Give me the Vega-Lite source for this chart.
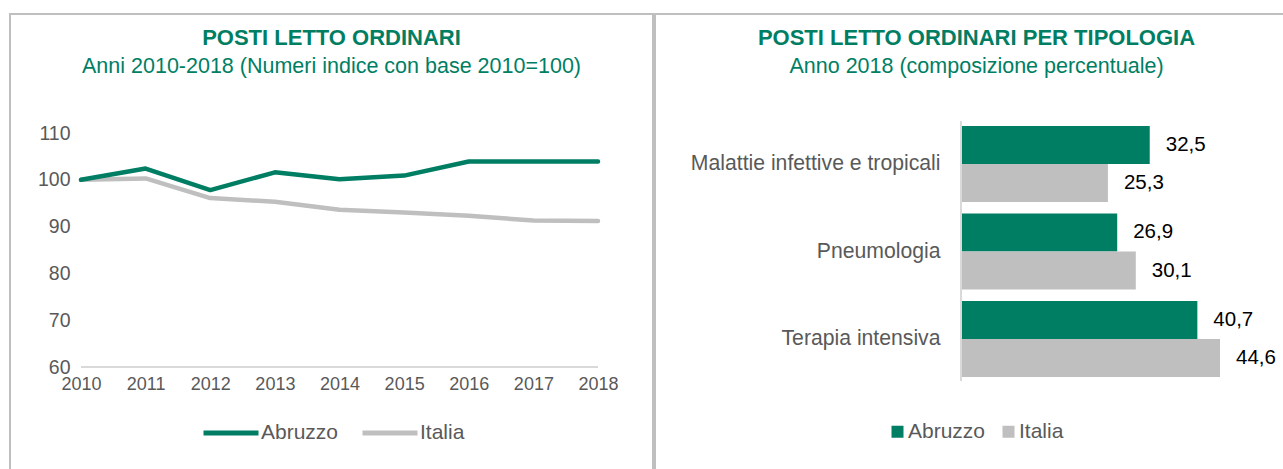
{
  "$schema": "https://vega.github.io/schema/vega-lite/v6.json",
  "padding": {"left": 9, "top": 13, "right": 0, "bottom": 0},
  "background": "white",
  "spacing": 0,
  "config": {
    "view": {"stroke": "#BFBFBF", "strokeWidth": 2},
    "font": "Liberation Sans",
    "locale": {"number": {"decimal": ",", "thousands": ".", "grouping": [3], "currency": ["", " €"]}}
  },
  "resolve": {"scale": {"color": "independent"}, "legend": {"color": "independent"}},
  "hconcat": [
    {
      "width": 643,
      "height": 470,
      "title": {
        "text": "POSTI LETTO ORDINARI",
        "subtitle": "Anni 2010-2018 (Numeri indice con base 2010=100)",
        "anchor": "middle",
        "frame": "group",
        "offset": -64,
        "font": "Liberation Sans",
        "fontSize": 22,
        "fontWeight": "bold",
        "color": "#007E64",
        "subtitleFont": "Liberation Sans",
        "subtitleFontSize": 21.5,
        "subtitleColor": "#007E64",
        "subtitlePadding": 6
      },
      "data": {
        "values": [
          {"year": 2010, "series": "Italia", "value": 100.0},
          {"year": 2011, "series": "Italia", "value": 100.3},
          {"year": 2012, "series": "Italia", "value": 96.1},
          {"year": 2013, "series": "Italia", "value": 95.3},
          {"year": 2014, "series": "Italia", "value": 93.6},
          {"year": 2015, "series": "Italia", "value": 93.0},
          {"year": 2016, "series": "Italia", "value": 92.3},
          {"year": 2017, "series": "Italia", "value": 91.3},
          {"year": 2018, "series": "Italia", "value": 91.2},
          {"year": 2010, "series": "Abruzzo", "value": 100.0},
          {"year": 2011, "series": "Abruzzo", "value": 102.4},
          {"year": 2012, "series": "Abruzzo", "value": 97.8},
          {"year": 2013, "series": "Abruzzo", "value": 101.6},
          {"year": 2014, "series": "Abruzzo", "value": 100.1},
          {"year": 2015, "series": "Abruzzo", "value": 100.9},
          {"year": 2016, "series": "Abruzzo", "value": 103.9},
          {"year": 2017, "series": "Abruzzo", "value": 103.9},
          {"year": 2018, "series": "Abruzzo", "value": 103.9}
        ]
      },
      "layer": [
        {
          "mark": {"type": "rule", "color": "#D9D9D9", "strokeWidth": 1.5},
          "encoding": {
            "x": {"datum": 2010, "type": "quantitative"},
            "x2": {"datum": 2018},
            "y": {"datum": 60, "type": "quantitative"}
          }
        },
        {
          "mark": {"type": "line", "strokeWidth": 4.5, "strokeCap": "round", "strokeJoin": "round"},
          "encoding": {
            "x": {
              "field": "year", "type": "quantitative",
              "scale": {"domain": [2008.901, 2018.851], "nice": false, "zero": false},
              "axis": {
                "values": [2010, 2011, 2012, 2013, 2014, 2015, 2016, 2017, 2018],
                "format": "d", "title": null, "domain": false, "ticks": false, "grid": false,
                "offset": -117, "labelPadding": 8, "labelFlush": false,
                "labelFontSize": 18, "labelColor": "#595959"
              }
            },
            "y": {
              "field": "value", "type": "quantitative",
              "scale": {"domain": [35, 135.43], "nice": false, "zero": false},
              "axis": {
                "values": [60, 70, 80, 90, 100, 110],
                "title": null, "domain": false, "ticks": false, "grid": false,
                "offset": -60, "labelPadding": 0,
                "labelFontSize": 19.5, "labelColor": "#595959"
              }
            },
            "color": {
              "field": "series", "type": "nominal",
              "scale": {"domain": ["Abruzzo", "Italia"], "range": ["#007E64", "#BFBFBF"]},
              "legend": {
                "orient": "none", "legendX": 191, "legendY": 389, "direction": "horizontal",
                "title": null, "padding": 0, "symbolType": "stroke", "symbolSize": 3025,
                "symbolStrokeWidth": 5, "labelFontSize": 21, "labelColor": "#595959",
                "labelOffset": 0, "columnPadding": 13, "labelLimit": 200
              }
            }
          }
        }
      ]
    },
    {
      "width": 643,
      "height": 470,
      "title": {
        "text": "POSTI LETTO ORDINARI PER TIPOLOGIA",
        "subtitle": "Anno 2018 (composizione percentuale)",
        "anchor": "middle",
        "frame": "group",
        "offset": -64,
        "font": "Liberation Sans",
        "fontSize": 22,
        "fontWeight": "bold",
        "color": "#007E64",
        "subtitleFont": "Liberation Sans",
        "subtitleFontSize": 21.5,
        "subtitleColor": "#007E64",
        "subtitlePadding": 6
      },
      "data": {
        "values": [
          {"cat": "Malattie infettive e tropicali", "series": "Abruzzo", "value": 32.5},
          {"cat": "Malattie infettive e tropicali", "series": "Italia", "value": 25.3},
          {"cat": "Pneumologia", "series": "Abruzzo", "value": 26.9},
          {"cat": "Pneumologia", "series": "Italia", "value": 30.1},
          {"cat": "Terapia intensiva", "series": "Abruzzo", "value": 40.7},
          {"cat": "Terapia intensiva", "series": "Italia", "value": 44.6}
        ]
      },
      "layer": [
        {
          "mark": {"type": "bar"},
          "encoding": {
            "x": {
              "field": "value", "type": "quantitative",
              "scale": {"domain": [-52.69, 58.03], "nice": false},
              "axis": null
            },
            "y": {
              "field": "cat", "type": "nominal",
              "sort": ["Malattie infettive e tropicali", "Pneumologia", "Terapia intensiva"],
              "scale": {"range": [112, 363], "paddingInner": 0.131, "paddingOuter": 0},
              "axis": {
                "title": null, "domain": false, "ticks": false, "grid": false,
                "offset": -306, "labelPadding": 21, "labelLimit": 400,
                "labelFontSize": 21.2, "labelColor": "#595959"
              }
            },
            "yOffset": {
              "field": "series", "type": "nominal",
              "sort": ["Abruzzo", "Italia"],
              "scale": {"paddingInner": 0, "paddingOuter": 0}
            },
            "color": {
              "field": "series", "type": "nominal",
              "scale": {"domain": ["Abruzzo", "Italia"], "range": ["#007E64", "#BFBFBF"]},
              "legend": {
                "orient": "none", "legendX": 232, "legendY": 407, "direction": "horizontal",
                "title": null, "padding": 0, "symbolType": "square", "symbolSize": 144,
                "symbolStrokeWidth": 0, "labelFontSize": 21, "labelColor": "#595959",
                "labelOffset": 0, "columnPadding": 12, "labelLimit": 200
              }
            }
          }
        },
        {
          "mark": {"type": "rule", "color": "#D9D9D9", "strokeWidth": 1.5, "yOffset": -5, "y2Offset": 4},
          "encoding": {
            "x": {"datum": 0, "type": "quantitative"},
            "y": {"datum": "Malattie infettive e tropicali", "type": "nominal", "bandPosition": 0},
            "y2": {"datum": "Terapia intensiva", "bandPosition": 1}
          }
        },
        {
          "mark": {"type": "text", "align": "left", "baseline": "middle", "dx": 16, "fontSize": 20.5, "color": "#000000"},
          "encoding": {
            "x": {"field": "value", "type": "quantitative"},
            "y": {"field": "cat", "type": "nominal", "sort": ["Malattie infettive e tropicali", "Pneumologia", "Terapia intensiva"]},
            "yOffset": {"field": "series", "type": "nominal", "sort": ["Abruzzo", "Italia"]},
            "text": {"field": "value", "type": "quantitative", "format": ".1f"}
          }
        }
      ]
    }
  ]
}
